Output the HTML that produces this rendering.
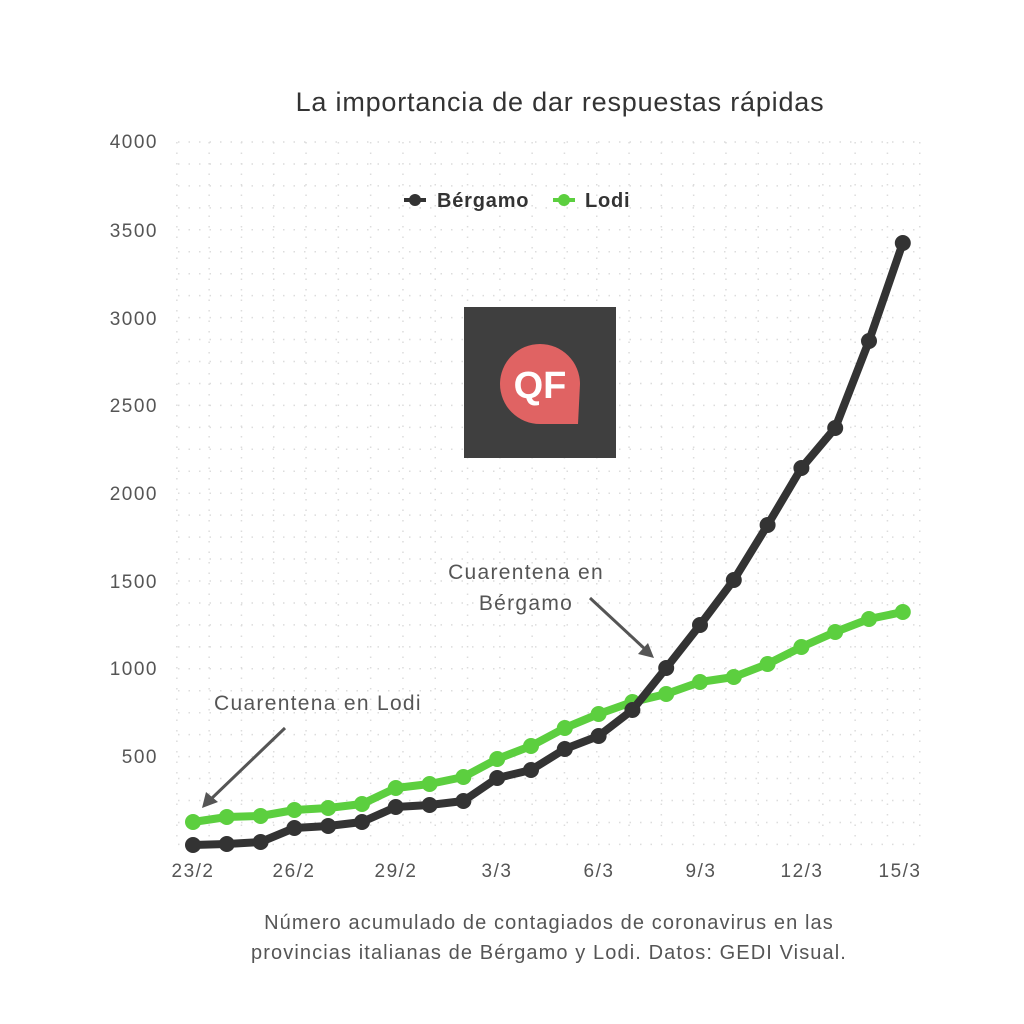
<!DOCTYPE html>
<html><head><style>body{margin:0;background:#fff;}svg{display:block}</style></head><body>
<svg width="1024" height="1024" xmlns="http://www.w3.org/2000/svg" font-family="Liberation Sans, DejaVu Sans, sans-serif">
<rect width="1024" height="1024" fill="#fff"/>
<g id="grid" stroke="#dcdcdc" stroke-width="1.5" stroke-dasharray="1.5 9"></g>
<text x="560" y="111" font-size="27" fill="#333" text-anchor="middle" letter-spacing="0.8">La importancia de dar respuestas rápidas</text>
<g font-size="19" fill="#555" text-anchor="end" letter-spacing="1.5">
<text x="158" y="148">4000</text><text x="158" y="237">3500</text><text x="158" y="325">3000</text><text x="158" y="412">2500</text><text x="158" y="500">2000</text><text x="158" y="588">1500</text><text x="158" y="675">1000</text><text x="158" y="763">500</text>
</g>
<g font-size="19" fill="#555" text-anchor="middle" letter-spacing="1.5">
<text x="193" y="877">23/2</text><text x="294" y="877">26/2</text><text x="396" y="877">29/2</text><text x="497" y="877">3/3</text><text x="599" y="877">6/3</text><text x="701" y="877">9/3</text><text x="802" y="877">12/3</text><text x="900" y="877">15/3</text>
</g>
<g font-size="20" font-weight="bold" fill="#333" letter-spacing="0.8">
<line x1="404" y1="200" x2="426" y2="200" stroke="#333" stroke-width="4"/><circle cx="415" cy="200" r="6" fill="#333"/>
<text x="437" y="207">Bérgamo</text>
<line x1="553" y1="200" x2="575" y2="200" stroke="#5ccf3f" stroke-width="4"/><circle cx="564" cy="200" r="6" fill="#5ccf3f"/>
<text x="585" y="207">Lodi</text>
</g>
<rect x="464" y="307" width="152" height="151" fill="#3f3f3f"/>
<path d="M580 384 A40 40 0 1 0 540 424 L578 424 Z" fill="#e06363"/>
<text x="540" y="398" font-size="38" font-weight="bold" fill="#fff" text-anchor="middle">QF</text>
<g id="series"></g>
<text x="214" y="710" font-size="21" fill="#555" letter-spacing="1.3">Cuarentena en Lodi</text>
<line x1="285" y1="728" x2="210" y2="800" stroke="#555" stroke-width="3"/>
<polygon points="202,808 206,792 218,802" fill="#555"/>
<text x="526" y="579" font-size="21" fill="#555" text-anchor="middle" letter-spacing="1.3">Cuarentena en</text>
<text x="526" y="610" font-size="21" fill="#555" text-anchor="middle" letter-spacing="1.3">Bérgamo</text>
<line x1="590" y1="598" x2="646" y2="650" stroke="#555" stroke-width="3"/>
<polygon points="654,658 638,654 648,643" fill="#555"/>
<text x="549" y="929" font-size="20" fill="#555" text-anchor="middle" letter-spacing="1.1">Número acumulado de contagiados de coronavirus en las</text>
<text x="549" y="959" font-size="20" fill="#555" text-anchor="middle" letter-spacing="1.1">provincias italianas de Bérgamo y Lodi. Datos: GEDI Visual.</text>
</svg>
<script>
var ns="http://www.w3.org/2000/svg",g=document.getElementById('grid'),s=document.getElementById('series');
function el(p,t,a){var e=document.createElementNS(ns,t);for(var k in a)e.setAttribute(k,a[k]);p.appendChild(e);return e;}
for(var i=0;i<=32;i++){var y=142+i*21.95;el(g,'line',{x1:178,x2:918,y1:y,y2:y});}
for(var d=-0.5;d<=22.5;d+=1){var x=193+d*32.3;el(g,'line',{x1:x,x2:x,y1:142,y2:845});}
var B=[845,844,842,828,826,822,807,805,801,778,770,749,736,710,668,625,580,525,468,428,341,243];
var L=[822,817,816,810,808,804,788,784,777,759,746,728,714,702,694,682,677,664,647,632,619,612];
function ser(v,c){var p=v.map(function(y,i){return (193+i*33.8)+','+y}).join(' ');
el(s,'polyline',{points:p,fill:'none',stroke:c,'stroke-width':8,'stroke-linejoin':'round'});
v.forEach(function(y,i){el(s,'circle',{cx:193+i*33.8,cy:y,r:8,fill:c});});}
ser(L,'#5ccf3f');ser(B,'#333');
</script>
</body></html>
